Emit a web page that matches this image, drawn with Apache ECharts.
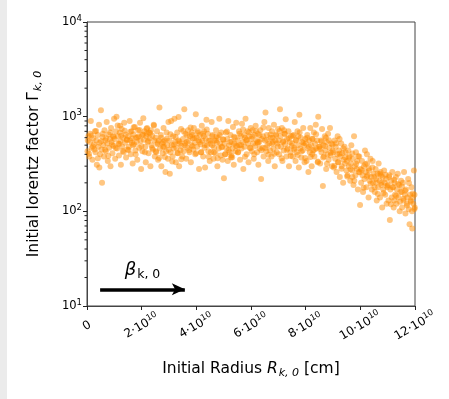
<!DOCTYPE html>
<html>
<head>
<meta charset="utf-8">
<script src="https://cdn.jsdelivr.net/npm/echarts@6/dist/echarts.min.js"></script>
<style>
  html, body { margin: 0; padding: 0; background: #fff; }
  #chart { width: 449px; height: 399px; }
</style>
</head>
<body>
<div id="chart"></div>
<script>
var chart = echarts.init(document.getElementById("chart"));

// radius in units of 1e10 cm, lorentz factor
var pointsA = [
  [0.02,430],[0.05,620],[0.08,380],[0.11,540],[0.14,900],[0.17,470],[0.2,350],[0.23,590],[0.26,510],[0.29,700],[0.31,420],[0.34,560],[0.36,310],[0.39,640],[0.41,480],[0.44,820],[0.46,530],[0.48,400],[0.03,560],[0.27,450],[0.12,660],[0.45,290],
  [0.51,1170],[0.53,450],[0.55,200],[0.57,610],[0.6,500],[0.62,380],[0.64,720],[0.67,560],[0.69,430],[0.72,880],[0.74,520],[0.76,340],[0.79,650],[0.81,470],[0.84,580],[0.86,300],[0.88,760],[0.9,540],[0.93,410],[0.95,620],[0.97,490],[0.99,950],
  [1.01,580],[1.03,360],[1.06,700],[1.08,1000],[1.1,460],[1.13,620],[1.15,520],[1.17,390],[1.2,680],[1.22,550],[1.24,310],[1.27,740],[1.29,480],[1.32,600],[1.34,420],[1.36,860],[1.39,530],[1.41,650],[1.43,370],[1.46,570],[1.48,450],[1.21,800],
  [1.51,620],[1.53,480],[1.56,900],[1.58,560],[1.6,400],[1.63,700],[1.65,590],[1.67,320],[1.7,650],[1.72,510],[1.75,780],[1.77,440],[1.79,600],[1.82,540],[1.84,350],[1.87,720],[1.89,620],[1.91,470],[1.94,860],[1.96,560],[1.98,280],[1.68,500],
  [2.01,640],[2.03,430],[2.06,960],[2.08,570],[2.1,700],[2.13,480],[2.15,330],[2.17,620],[2.2,760],[2.22,540],[2.25,410],[2.27,680],[2.29,590],[2.32,300],[2.34,720],[2.36,500],[2.39,630],[2.41,450],[2.44,820],[2.46,560],[2.48,380],[2.19,660],
  [2.51,600],[2.53,420],[2.56,700],[2.58,510],[2.6,350],[2.63,560],[2.65,1250],[2.67,460],[2.7,640],[2.72,300],[2.75,520],[2.77,410],[2.8,760],[2.82,480],[2.84,560],[2.87,260],[2.89,430],[2.91,680],[2.94,500],[2.96,360],[2.98,880],[2.79,540]
];
var pointsB = [
  [3.01,560],[3.03,250],[3.06,420],[3.08,900],[3.1,500],[3.13,380],[3.15,620],[3.17,460],[3.2,950],[3.22,540],[3.25,330],[3.27,470],[3.3,680],[3.32,410],[3.34,560],[3.37,300],[3.39,520],[3.42,440],[3.44,740],[3.46,490],[3.49,380],[3.35,990],
  [3.51,580],[3.53,430],[3.56,1200],[3.58,500],[3.6,660],[3.63,360],[3.65,540],[3.67,470],[3.7,720],[3.72,560],[3.75,420],[3.77,620],[3.8,330],[3.82,500],[3.84,680],[3.87,590],[3.89,450],[3.91,760],[3.94,530],[3.96,400],[3.98,1060],[3.85,640],
  [4.01,600],[4.03,480],[4.06,700],[4.08,560],[4.1,280],[4.13,640],[4.15,510],[4.17,420],[4.2,800],[4.22,560],[4.25,380],[4.27,620],[4.3,470],[4.32,290],[4.34,580],[4.37,930],[4.39,500],[4.42,660],[4.44,430],[4.46,560],[4.49,340],[4.28,700],
  [4.51,560],[4.53,420],[4.56,880],[4.58,500],[4.6,640],[4.63,360],[4.65,470],[4.67,560],[4.7,410],[4.72,720],[4.75,530],[4.77,300],[4.8,600],[4.82,460],[4.84,950],[4.87,520],[4.89,390],[4.91,680],[4.94,480],[4.96,350],[4.99,570],[4.74,620],
  [5.01,224],[5.03,520],[5.06,400],[5.08,680],[5.1,460],[5.13,580],[5.15,340],[5.17,900],[5.2,500],[5.22,420],[5.25,640],[5.27,370],[5.3,540],[5.32,460],[5.34,780],[5.37,310],[5.39,520],[5.42,600],[5.44,430],[5.46,860],[5.49,490],[5.28,390],
  [5.51,560],[5.53,420],[5.56,700],[5.58,500],[5.6,350],[5.63,620],[5.65,460],[5.67,840],[5.7,540],[5.72,280],[5.75,640],[5.77,480],[5.8,950],[5.82,560],[5.84,400],[5.87,700],[5.89,520],[5.91,330],[5.94,620],[5.96,470],[5.99,760],[5.78,600]
];
var pointsC = [
  [6.01,580],[6.03,430],[6.06,720],[6.08,520],[6.1,360],[6.13,640],[6.15,490],[6.17,800],[6.2,560],[6.22,420],[6.25,660],[6.27,310],[6.3,540],[6.32,460],[6.34,720],[6.37,220],[6.39,580],[6.42,470],[6.44,620],[6.46,380],[6.49,880],[6.24,540],
  [6.51,560],[6.53,1110],[6.56,430],[6.58,640],[6.6,500],[6.63,340],[6.65,760],[6.67,520],[6.7,440],[6.72,600],[6.75,380],[6.77,700],[6.8,540],[6.82,460],[6.84,820],[6.87,300],[6.89,560],[6.91,650],[6.94,420],[6.96,520],[6.99,740],[6.79,600],
  [7.01,560],[7.03,400],[7.06,1200],[7.08,620],[7.1,480],[7.13,760],[7.15,340],[7.17,540],[7.2,440],[7.22,660],[7.25,510],[7.27,940],[7.3,380],[7.32,580],[7.34,460],[7.37,700],[7.39,300],[7.42,540],[7.44,420],[7.46,620],[7.49,490],[7.21,720],
  [7.51,520],[7.53,380],[7.56,640],[7.58,450],[7.6,880],[7.63,340],[7.65,560],[7.67,420],[7.7,700],[7.72,500],[7.75,290],[7.77,1050],[7.8,460],[7.82,600],[7.84,370],[7.87,540],[7.89,440],[7.91,760],[7.94,500],[7.96,330],[7.99,580],[7.73,620],
  [8.01,520],[8.03,340],[8.06,640],[8.08,460],[8.1,260],[8.13,560],[8.15,420],[8.17,760],[8.2,500],[8.22,300],[8.25,580],[8.27,440],[8.3,680],[8.32,380],[8.34,520],[8.37,820],[8.39,460],[8.42,560],[8.44,330],[8.46,1000],[8.49,480],[8.24,400],
  [8.51,480],[8.53,320],[8.56,560],[8.58,420],[8.6,740],[8.63,185],[8.65,500],[8.67,380],[8.7,620],[8.72,440],[8.75,280],[8.77,540],[8.8,400],[8.82,660],[8.84,350],[8.87,470],[8.89,760],[8.91,390],[8.94,520],[8.96,300],[8.99,440],[8.74,600]
];
var pointsD = [
  [9.01,420],[9.03,290],[9.06,560],[9.08,360],[9.1,480],[9.13,260],[9.15,400],[9.17,620],[9.2,330],[9.22,440],[9.25,230],[9.27,380],[9.3,520],[9.32,300],[9.34,410],[9.37,200],[9.39,350],[9.42,480],[9.44,320],[9.46,420],[9.49,270],[9.24,580],
  [9.51,340],[9.53,240],[9.56,440],[9.58,300],[9.6,380],[9.63,210],[9.65,320],[9.67,500],[9.7,270],[9.72,360],[9.75,190],[9.77,620],[9.8,300],[9.82,240],[9.84,420],[9.87,280],[9.89,340],[9.91,170],[9.94,260],[9.96,380],[9.99,117],[9.71,230],
  [10.01,280],[10.03,200],[10.06,340],[10.08,240],[10.1,160],[10.13,300],[10.15,220],[10.17,440],[10.2,260],[10.22,180],[10.25,320],[10.27,240],[10.3,140],[10.32,270],[10.34,210],[10.37,360],[10.39,230],[10.42,170],[10.44,290],[10.46,200],[10.49,250],[10.24,400],
  [10.51,230],[10.53,160],[10.56,280],[10.58,200],[10.6,130],[10.63,250],[10.65,180],[10.67,320],[10.7,210],[10.72,140],[10.75,240],[10.77,190],[10.8,110],[10.82,230],[10.84,170],[10.87,270],[10.89,200],[10.91,150],[10.94,220],[10.96,120],[10.99,180],[10.74,260],
  [11.01,190],[11.03,130],[11.06,240],[11.08,81],[11.1,170],[11.13,210],[11.15,140],[11.17,260],[11.2,180],[11.22,110],[11.25,200],[11.27,150],[11.3,230],[11.32,120],[11.34,170],[11.37,250],[11.39,140],[11.42,190],[11.44,100],[11.46,160],[11.49,210],[11.24,130],
  [11.51,160],[11.53,110],[11.56,200],[11.58,130],[11.6,260],[11.63,150],[11.65,95],[11.67,170],[11.7,120],[11.72,140],[11.75,220],[11.77,105],[11.8,73],[11.82,150],[11.84,130],[11.87,180],[11.89,100],[11.9,66],[11.92,140],[11.94,120],[11.96,270],[11.98,150],[11.99,110]
];
// extra points in the crowded middle of the band
var pointsCore = [
  [0.07,405],[0.16,634],[0.22,484],[0.33,707],[0.4,364],[0.52,551],[0.58,660],[0.66,447],[0.7,593],[0.78,385],[0.85,681],[0.92,504],[0.98,614],
  [1.05,467],[1.12,809],[1.18,513],[1.25,627],[1.31,433],[1.38,712],[1.45,570],[1.52,445],[1.59,695],[1.64,530],[1.71,775],[1.78,399],[1.85,604],[1.92,724],[1.99,490],
  [2.05,650],[2.12,422],[2.18,747],[2.24,553],[2.31,673],[2.38,467],[2.45,809],[2.52,432],[2.58,528],[2.64,365],[2.71,600],[2.78,480],[2.85,374],[2.92,586],[2.99,446],
  [3.05,653],[3.12,336],[3.18,509],[3.24,610],[3.31,413],[3.38,547],[3.45,355],[3.52,707],[3.59,524],[3.66,637],[3.73,443],[3.79,767],[3.86,486],[3.93,594],[3.99,410],
  [4.05,675],[4.12,540],[4.18,421],[4.24,659],[4.31,502],[4.38,734],[4.45,378],[4.52,519],[4.58,622],[4.64,421],[4.71,559],[4.78,363],[4.85,642],[4.92,475],[4.98,578],
  [5.05,402],[5.12,696],[5.18,441],[5.24,539],[5.31,372],[5.38,612],[5.45,490],[5.52,421],[5.58,659],[5.64,502],[5.71,734],[5.78,378],[5.85,572],[5.92,686],[5.98,464],
  [6.05,616],[6.12,400],[6.18,707],[6.25,524],[6.31,637],[6.38,443],[6.45,767],[6.52,468],[6.58,572],[6.64,395],[6.71,650],[6.78,520],[6.85,406],[6.92,634],[6.98,484],
  [7.05,707],[7.12,364],[7.18,551],[7.24,660],[7.31,447],[7.38,593],[7.45,385],[7.52,629],[7.58,466],[7.64,566],[7.71,394],[7.78,682],[7.85,432],[7.92,528],[7.98,365],
  [8.05,600],[8.12,480],[8.18,374],[8.24,586],[8.31,446],[8.38,653],[8.45,336],[8.52,456],[8.58,546],[8.64,370],[8.71,490],[8.78,318],[8.85,563],[8.92,417],[8.98,507],
  [9.05,303],[9.12,525],[9.18,333],[9.24,407],[9.31,281],[9.38,462],[9.45,370],[9.52,234],[9.58,366],[9.64,279],[9.71,408],[9.78,210],[9.85,318],[9.92,381],[9.98,258],
  [10.05,274],[10.12,178],[10.18,314],[10.24,233],[10.31,283],[10.38,197],[10.45,341],[10.52,180],[10.58,220],[10.64,152],[10.71,250],[10.78,200],[10.85,156],[10.92,244],[10.98,186],
  [11.05,231],[11.12,119],[11.18,180],[11.24,216],[11.31,146],[11.38,194],[11.45,126],[11.52,183],[11.58,136],[11.64,165],[11.71,115],[11.78,199],[11.85,126],[11.92,154],[11.98,106]
];

var xTicks = [0, 2, 4, 6, 8, 10, 12];
var yMinorTicks = [20,30,40,50,60,70,80,90,200,300,400,500,600,700,800,900,2000,3000,4000,5000,6000,7000,8000,9000];
var arrowFrom = [0.48, 15];
var arrowTo = [3.58, 15];

var allPoints = pointsA.concat(pointsB, pointsC, pointsD, pointsCore);
var font = "DejaVu Sans";

var option = {
  animation: false,
  backgroundColor: "#fff",
  graphic: [
    { type: "rect", left: 0, top: 0, shape: { width: 7, height: 399 }, style: { fill: "#ebebeb" }, silent: true }
  ],
  grid: {
    left: 87, right: 34, top: 22, bottom: 93,
    show: true, borderColor: "#444", borderWidth: 1
  },
  xAxis: {
    type: "value",
    min: 0, max: 12, interval: 2,
    name: "{n|Initial Radius }{i|R}{sb|k, 0}{n| [cm]}",
    nameLocation: "middle",
    nameGap: 53,
    nameTextStyle: {
      fontFamily: font, color: "#000",
      rich: {
        n: { fontSize: 15.5, fontFamily: font, color: "#000" },
        i: { fontSize: 15.5, fontFamily: font, fontStyle: "italic", color: "#000" },
        sb: { fontSize: 11, fontFamily: font, fontStyle: "italic", color: "#000", padding: [9, 0, 0, 1] }
      }
    },
    axisLine: { lineStyle: { color: "#444", width: 1 } },
    axisTick: { length: 4, lineStyle: { color: "#222" } },
    splitLine: { show: false },
    axisLabel: {
      rotate: 30,
      margin: 20,
      align: "center",
      verticalAlign: "middle",
      color: "#000",
      fontFamily: font,
      formatter: function (v) {
        if (xTicks.indexOf(v) < 0) return "";
        if (v === 0) return "{b|0}";
        return "{b|" + v + "·10}{s|10}";
      },
      rich: {
        b: { fontSize: 12, fontFamily: font, color: "#000" },
        s: { fontSize: 8.5, fontFamily: font, color: "#000", padding: [0, 0, 7, 0] }
      }
    }
  },
  yAxis: {
    type: "log",
    logBase: 10,
    min: 10, max: 10000,
    name: "{n|Initial lorentz factor Γ}{sb|k, 0}",
    nameLocation: "middle",
    nameRotate: 90,
    nameGap: 43,
    nameTextStyle: {
      fontFamily: font, color: "#000",
      rich: {
        n: { fontSize: 15.5, fontFamily: font, color: "#000" },
        sb: { fontSize: 11, fontFamily: font, fontStyle: "italic", color: "#000", padding: [9, 0, 0, 1] }
      }
    },
    axisLine: { show: true, lineStyle: { color: "#444", width: 1 } },
    axisTick: { show: true, length: 4, lineStyle: { color: "#222" } },
    splitLine: { show: false },
    axisLabel: {
      margin: 5,
      color: "#000",
      fontFamily: font,
      formatter: function (v) {
        var e = Math.round(Math.log(v) / Math.LN10);
        return "{b|10}{s|" + e + "}";
      },
      rich: {
        b: { fontSize: 11.5, fontFamily: font, color: "#000" },
        s: { fontSize: 8.5, fontFamily: font, color: "#000", padding: [0, 0, 7, 0] }
      }
    }
  },
  series: [
    {
      name: "Gamma",
      type: "scatter",
      data: allPoints,
      symbolSize: 6,
      itemStyle: { color: "rgba(255,140,0,0.62)" },
      z: 2
    },
    {
      name: "minor ticks",
      type: "custom",
      silent: true,
      clip: false,
      data: yMinorTicks.map(function (v) { return [0, v]; }),
      renderItem: function (params, api) {
        var p = api.coord([0, api.value(1)]);
        return {
          type: "line",
          shape: { x1: p[0] - 2.5, y1: p[1], x2: p[0], y2: p[1] },
          style: { stroke: "#222", lineWidth: 1 }
        };
      },
      z: 3
    },
    {
      name: "arrow",
      type: "scatter",
      data: [],
      markLine: {
        silent: true,
        animation: false,
        symbol: ["none", "arrow"],
        symbolSize: [9, 13],
        lineStyle: { color: "#000", width: 3.5, type: "solid" },
        label: {
          show: true,
          position: "middle",
          distance: 8,
          formatter: "{g|β}{sb|k, 0}",
          rich: {
            g: { fontSize: 18, fontFamily: font, fontStyle: "italic", color: "#000" },
            sb: { fontSize: 12.5, fontFamily: font, color: "#000", padding: [9, 0, 0, 1] }
          }
        },
        data: [[{ coord: arrowFrom }, { coord: arrowTo }]]
      }
    }
  ]
};

chart.setOption(option);
</script>
</body>
</html>
